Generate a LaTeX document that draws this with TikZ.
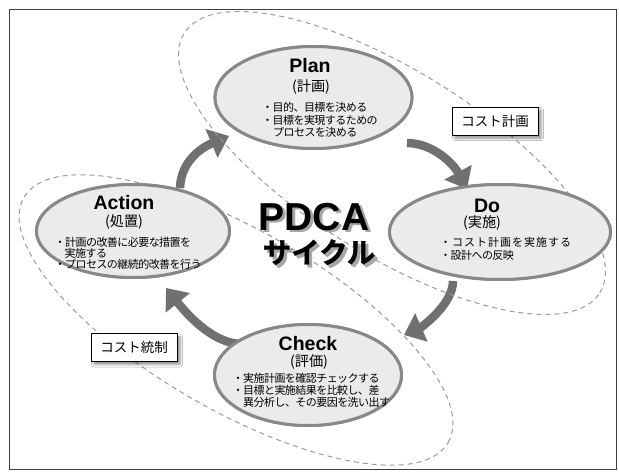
\documentclass[tikz,border=0pt]{standalone}
\usepackage{fontspec}
\setmainfont{Liberation Sans}
\newfontfamily\jp{Noto Sans CJK JP}
\newfontfamily\jpitem[LetterSpace=-5]{Noto Sans CJK JP}
\newfontfamily\jpwide[LetterSpace=9]{Noto Sans CJK JP}
\newfontfamily\jpheavy[FakeBold=1.2]{Noto Sans CJK JP Bold}
\usetikzlibrary{arrows.meta,shapes.geometric,shadows.blur,calc}
\definecolor{arrowgray}{HTML}{707073}
\definecolor{ringgray}{HTML}{888888}
\definecolor{fillgray}{HTML}{EBEBEB}
\definecolor{dashgray}{HTML}{9A9A9A}
\begin{document}
\begin{tikzpicture}[x=1pt,y=-1pt,
  stage/.style={ellipse, draw=ringgray, line width=3pt, fill=fillgray, inner sep=0pt},
  title/.style={font=\bfseries\fontsize{19.5}{20}\selectfont, anchor=base, inner sep=0pt},
  sub/.style={font=\jp\fontsize{14.2}{15}\selectfont, anchor=base, inner sep=0pt},
  item/.style={font=\jpitem\fontsize{11}{12}\selectfont, anchor=base west, inner sep=0pt},
  cyc/.style={draw=arrowgray, line width=8.5pt, -{Triangle[length=19pt,width=30pt]}},
  region/.style={draw=dashgray, line width=1pt, dash pattern=on 5pt off 4pt},
  tag/.style={draw=black, line width=0.9pt, fill=white, minimum width=86pt, minimum height=28pt, inner sep=0pt,
    font=\jp\fontsize{13.5}{14}\selectfont,
    blur shadow={shadow xshift=3pt, shadow yshift=-3pt, shadow blur radius=2.5pt, shadow opacity=45}},
  big/.style={font=\bfseries\fontsize{39}{40}\selectfont, anchor=base, inner sep=0pt},
  bigjp/.style={font=\jpheavy\fontsize{28.5}{30}\selectfont, anchor=base, inner sep=0pt}
]
\useasboundingbox (0,0) rectangle (619,476);
\fill[white] (0,0) rectangle (619,476);
\draw[black!75, line width=1.3pt] (9.5,9.5) rectangle (616.5,469.5);

% stage nodes (positions, used by the arrows)
\path
  node[stage, minimum width=197pt, minimum height=102pt] (plan) at (313.5,97.5) {}
  node[stage, minimum width=221pt, minimum height=95pt] (do) at (500,232) {}
  node[stage, minimum width=193pt, minimum height=93pt] (action) at (133,231) {}
  node[stage, minimum width=187pt, minimum height=101pt] (check) at (308,375) {};

% arrow end points
\coordinate (s1) at ([shift={(47,-43)}]action.center);
\coordinate (t1) at ([shift={(-84.5,38.5)}]plan.center);
\coordinate (s2) at ([shift={(93.5,45.5)}]plan.center);
\coordinate (t2) at ([shift={(-33,-43)}]do.center);
\coordinate (s3) at ([shift={(-47,49)}]do.center);
\coordinate (t3) at ([shift={(96,-40)}]check.center);
\coordinate (s4) at ([shift={(-66,-31)}]check.center);
\coordinate (t4) at ([shift={(33,57)}]action.center);

% cycle arrows
\draw[cyc] (s1) .. controls (181,160) and (203,147) .. (t1);
\draw[cyc] (s2) .. controls (432,143) and (453,163) .. (t2);
\draw[cyc] (s3) .. controls (453,305) and (420,328) .. (t3);
\draw[cyc] (s4) .. controls (215,344) and (190,318) .. (t4);

% dashed regions
\draw[region, shift={(392,163)}, rotate=-32] (0,0) ellipse [x radius=245pt, y radius=92pt];
\draw[region, shift={(236,320)}, rotate=-30] (0,0) ellipse [x radius=245pt, y radius=90pt];

% stage ellipses on top of the dashed regions
\path
  node[stage, minimum width=197pt, minimum height=102pt] (plan2) at (plan) {}
  node[stage, minimum width=221pt, minimum height=95pt] (do2) at (do) {}
  node[stage, minimum width=193pt, minimum height=93pt] (action2) at (action) {}
  node[stage, minimum width=187pt, minimum height=101pt] (check2) at (check) {};

% Plan
\node[title] (tplan) at (310,73) {Plan};
\node[sub] (splan) at (311,91.8) {(計画)};
\node[item] (p1) at (262,112) {・目的、目標を決める};
\node[item] (p2) at (262,124.5) {・目標を実現するための};
\node[item] (p3) at (273,137) {プロセスを決める};

% Do
\node[title] (tdo) at (487,212) {Do};
\node[sub] (sdo) at (482,227) {(実施)};
\node[item, font=\jpwide\fontsize{11}{12}\selectfont] (d1) at (440,246) {・コスト計画を実施する};
\node[item] (d2) at (440,259) {・設計への反映};

% Action
\node[title] (tact) at (124,210) {Action};
\node[sub] (sact) at (124,226) {(処置)};
\node[item] (a1) at (54.5,246) {・計画の改善に必要な措置を};
\node[item] (a2) at (64.5,257.5) {実施する};
\node[item] (a3) at (54.5,269) {・プロセスの継続的改善を行う};

% Check
\node[title] (tchk) at (308,350) {Check};
\node[sub] (schk) at (309,366) {(評価)};
\node[item] (c1) at (232.5,382) {・実施計画を確認チェックする};
\node[item] (c2) at (232.5,394.5) {・目標と実施結果を比較し、差};
\node[item] (c3) at (243,406.5) {異分析し、その要因を洗い出す};

% centre title with soft shadow
\node[big, text=black!35] (pdcash) at (317,233) {PDCA};
\node[big] (pdca) at (314,230) {PDCA};
\node[bigjp, text=black!35] (cycsh) at (322,266) {サイクル};
\node[bigjp] (cycle) at (319,263) {サイクル};

% region labels
\node[tag] (lplan) at (495,121) {コスト計画};
\node[tag] (lctrl) at (134,347.5) {コスト統制};
\end{tikzpicture}
\end{document}
